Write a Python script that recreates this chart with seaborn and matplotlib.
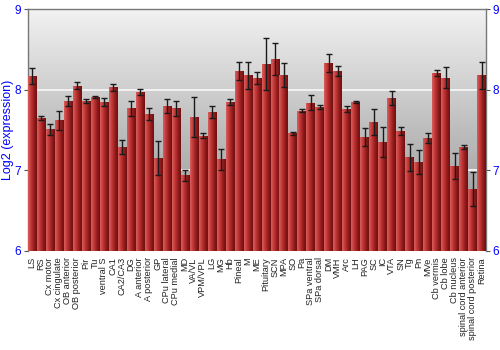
import numpy as np
import pandas as pd
import matplotlib
matplotlib.use("Agg")
import matplotlib.pyplot as plt
from matplotlib.colors import LinearSegmentedColormap
import seaborn as sns

regions = ["LS", "RS", "Cx motor", "Cx cingulate", "OB anterior", "OB posterior", "Pir", "Tu",
           "ventral S", "CA1", "CA2/CA3", "DG", "A anterior", "A posterior", "GP", "CPu lateral",
           "CPu medial", "MD", "VA/VL", "VPM/VPL", "LG", "MG", "Hb", "Pineal", "M", "ME",
           "Pituitary", "SCN", "MPA", "SO", "Pa", "SPa ventral", "SPa dorsal", "DM", "VMH", "Arc",
           "LH", "PAG", "SC", "IC", "VTA", "SN", "Tg", "Pn", "MVe", "Cb vermis", "Cb lobe",
           "Cb nucleus", "spinal cord anterior", "spinal cord posterior", "Retina"]

expression = [8.17, 7.65, 7.51, 7.62, 7.86, 8.05, 7.86, 7.91, 7.85, 8.03, 7.29, 7.77, 7.97, 7.70,
              7.15, 7.80, 7.77, 6.94, 7.66, 7.43, 7.72, 7.14, 7.85, 8.23, 8.18, 8.14, 8.32, 8.38,
              8.18, 7.46, 7.74, 7.84, 7.78, 8.33, 8.23, 7.76, 7.85, 7.41, 7.60, 7.35, 7.90, 7.49,
              7.16, 7.10, 7.40, 8.21, 8.15, 7.05, 7.29, 6.77, 8.18]

error = [0.10, 0.03, 0.07, 0.12, 0.06, 0.04, 0.03, 0.01, 0.05, 0.04, 0.09, 0.09, 0.035, 0.07,
         0.21, 0.09, 0.09, 0.07, 0.25, 0.03, 0.075, 0.13, 0.04, 0.11, 0.17, 0.075, 0.32, 0.20,
         0.15, 0.02, 0.02, 0.09, 0.025, 0.11, 0.06, 0.04, 0.01, 0.11, 0.16, 0.19, 0.09, 0.05,
         0.17, 0.15, 0.06, 0.04, 0.13, 0.16, 0.025, 0.21, 0.17]

yticks = [6, 7, 8, 9]

df = pd.DataFrame({"region": regions, "expr": expression, "err": error})

sns.set_style("white")
plt.rcParams["font.family"] = ["Liberation Sans", "DejaVu Sans"]

fig = plt.figure(figsize=(5, 3.5), dpi=100)
ax = fig.add_axes([0.055, 0.283, 0.917, 0.691])

sns.barplot(data=df, x="region", y="expr", color="#c03535", width=0.94,
            ax=ax, zorder=3, linewidth=0)

ymin, ymax = 6, 9
xlo, xhi = -0.5, len(regions) - 0.5

# background gradient
bg_cmap = LinearSegmentedColormap.from_list("bg", ["#929292", "#bdbdbd", "#f2f2f2"])
grad = np.linspace(0, 1, 256).reshape(-1, 1)
ax.imshow(grad, extent=[xlo, xhi, ymin, ymax], origin="lower", aspect="auto",
          cmap=bg_cmap, zorder=0)

# white grid lines
for yv in [7, 8]:
    ax.axhline(yv, color="#f4f4f4", lw=1.3, zorder=1)

# bar gradient
bar_cmap = LinearSegmentedColormap.from_list(
    "bar", ["#d8605c", "#c84040", "#b02a2a", "#8a1818", "#6e1010"])
hgrad = np.linspace(0, 1, 64).reshape(1, -1)
centers = []
for p in ax.patches:
    x0 = p.get_x()
    w = p.get_width()
    h = p.get_height()
    centers.append(x0 + w / 2)
    im = ax.imshow(hgrad, extent=[x0, x0 + w, ymin, h], aspect="auto",
                   cmap=bar_cmap, zorder=3.5)
    im.set_clip_path(p)

ax.errorbar(centers, df["expr"], yerr=df["err"], fmt="none", ecolor="#1a1a1a",
            elinewidth=1.0, capsize=2.2, capthick=1.0, zorder=5)

ax.set_xlim(xlo, xhi)
ax.set_ylim(ymin, ymax)
ax.set_yticks(yticks)
ax.set_yticklabels([str(t) for t in yticks])
ax.tick_params(axis="y", which="both", left=True, right=True, labelleft=True,
               labelright=True, labelcolor="#0000ff", labelsize=8.5, length=3,
               width=0.8, color="#555555", pad=1.5)
ax.tick_params(axis="x", bottom=False, labelsize=6.6, labelcolor="#222222", pad=1)
plt.setp(ax.get_xticklabels(), rotation=90)
ax.set_xlabel("")
ax.set_ylabel("Log2 (expression)", color="#0000ff", fontsize=9)
ax.yaxis.set_label_coords(-0.029, 0.5)

for s in ["top", "left", "right"]:
    ax.spines[s].set_visible(True)
    ax.spines[s].set_color("#777777")
    ax.spines[s].set_linewidth(1.0)
ax.spines["bottom"].set_visible(False)

fig.savefig("out.png", dpi=100)
